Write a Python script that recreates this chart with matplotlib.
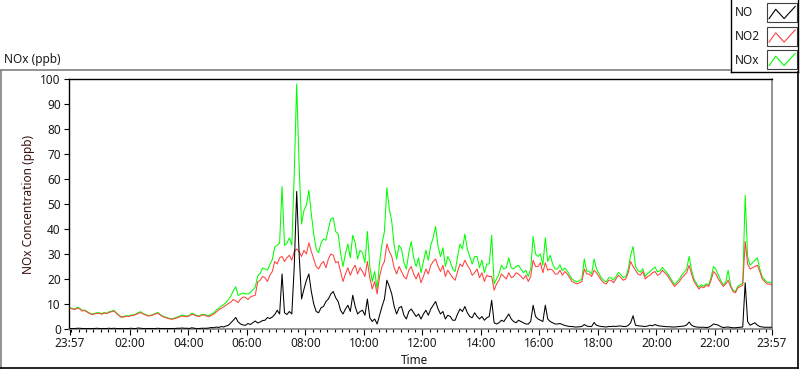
#!/usr/bin/env python3

import matplotlib
matplotlib.use('Agg')
import matplotlib.pyplot as plt
import matplotlib.ticker as mtick
from matplotlib.lines import Line2D
from matplotlib.patches import Rectangle
import numpy as np

# NOx time series, one reading every 5 minutes starting at 23:57
# (one row = one hour)
STEP_MIN = 5

no = [
    0.2, 0.2, 0.2, 0.3, 0.3, 0.2, 0.2, 0.2, 0.2, 0.2, 0.2, 0.3,
    0.2, 0.2, 0.2, 0.2, 0.3, 0.2, 0.3, 0.2, 0.2, 0.2, 0.2, 0.2,
    0.2, 0.3, 0.2, 0.2, 0.4, 0.3, 0.2, 0.2, 0.2, 0.2, 0.2, 0.2,
    0.3, 0.2, 0.2, 0.2, 0.2, 0.2, 0.2, 0.2, 0.3, 0.3, 0.4, 0.3,
    0.3, 0.2, 0.5, 0.3, 0.2, 0.2, 0.3, 0.3, 0.3, 0.4, 0.6, 0.5,
    0.8, 0.6, 1.0, 0.8, 1.2, 1.5, 2.5, 3.5, 4.6, 2.8, 2.0, 1.6,
    1.5, 2.2, 1.8, 2.5, 3.2, 2.4, 2.8, 3.4, 3.5, 4.6, 4.2, 4.8,
    5.8, 7.5, 6.0, 22.0, 6.5, 5.8, 7.0, 6.0, 25.0, 55.0, 30.0, 12.0,
    16.0, 19.5, 22.0, 15.0, 10.0, 7.0, 6.5, 8.5, 9.0, 11.0, 12.0, 14.0,
    15.0, 12.5, 11.0, 7.5, 6.0, 8.0, 9.5, 7.0, 13.5, 9.0, 6.0, 7.0,
    7.5, 5.5, 12.0, 4.5, 3.0, 4.0, 2.0, 5.5, 9.0, 12.0, 19.5, 17.0,
    14.0, 9.0, 6.0, 8.5, 9.0, 5.5, 4.0, 7.0, 8.0, 6.5, 5.0, 6.0,
    4.0, 6.0, 7.5, 5.5, 8.0, 9.5, 11.0, 8.0, 6.0, 7.0, 4.0, 5.5,
    5.0, 3.5, 3.5, 6.0, 8.0, 7.0, 9.0, 6.5, 5.0, 4.5, 6.5, 5.0,
    4.0, 5.0, 3.5, 4.5, 5.0, 11.5, 2.5, 2.0, 2.5, 3.5, 3.0, 4.5,
    6.0, 4.0, 3.0, 2.5, 3.5, 3.0, 2.5, 2.0, 2.0, 3.0, 9.5, 5.0,
    4.0, 3.5, 3.0, 9.5, 4.0, 3.0, 2.5, 2.0, 2.0, 2.2, 1.8, 1.4,
    1.2, 1.0, 1.0, 0.8, 0.8, 0.9, 1.0, 1.8, 1.2, 1.0, 1.0, 2.6,
    1.5, 1.2, 1.0, 0.9, 0.8, 1.0, 1.0, 1.1, 1.0, 1.2, 1.2, 1.0,
    1.0, 1.4, 2.5, 5.3, 1.5, 1.3, 1.2, 1.1, 1.0, 1.2, 1.5, 1.3,
    1.8, 1.4, 1.2, 1.1, 1.0, 0.9, 0.9, 0.8, 0.8, 0.9, 1.0, 1.1,
    1.2, 1.6, 2.8, 1.5, 1.0, 0.8, 0.7, 0.7, 0.7, 0.6, 0.7, 1.2,
    2.0, 1.8, 1.5, 0.9, 0.6, 0.7, 0.8, 0.6, 0.5, 0.5, 0.6, 0.7,
    0.8, 18.5, 3.0, 1.5, 2.0, 2.5, 1.5, 1.0, 0.8, 0.7, 0.7, 0.7,
    0.7,
]

no2 = [
    8.3, 8.0, 7.8, 8.4, 8.0, 7.2, 7.4, 6.8, 6.2, 5.8, 6.0, 6.2,
    6.3, 5.9, 6.4, 6.1, 6.6, 6.9, 7.2, 6.3, 5.4, 4.7, 4.8, 5.1,
    5.0, 5.3, 5.4, 5.8, 6.2, 6.6, 6.0, 5.6, 5.2, 5.3, 5.6, 6.0,
    6.3, 5.6, 5.0, 4.6, 4.3, 4.0, 3.9, 4.2, 4.5, 4.9, 5.2, 5.0,
    4.9, 5.3, 5.9, 5.6, 5.2, 5.0, 5.5, 5.6, 5.2, 5.0, 5.4, 6.0,
    6.8, 7.6, 8.2, 8.8, 9.5, 10.2, 10.8, 11.8, 11.3, 10.6, 12.0, 12.8,
    12.6, 11.8, 12.8, 13.2, 13.5, 18.8, 19.5, 21.0, 20.5, 19.0, 21.5, 23.0,
    27.0, 26.0, 28.5, 29.0, 27.0, 28.5, 29.5, 27.5, 31.0, 32.0, 31.0, 29.0,
    31.5, 30.0, 34.5, 31.0, 28.0, 25.0, 24.0, 26.0, 27.0, 24.5, 28.0, 30.0,
    29.5, 26.5, 27.0, 23.0, 19.0, 22.0, 24.5, 21.5, 24.0, 25.5, 22.0, 24.5,
    23.0, 21.0, 27.0, 20.5, 16.0, 19.0, 14.0, 21.0, 25.0, 27.0, 34.0, 31.0,
    29.0, 24.5, 22.0, 25.0, 23.0, 21.0, 20.0, 23.5, 25.0, 22.0, 20.0, 22.5,
    18.5, 21.0, 24.0, 22.0, 25.5, 27.0, 28.0, 25.0, 23.0, 25.5, 21.0, 23.5,
    22.0, 20.5, 19.5, 23.0, 26.0, 25.0, 27.5, 25.5, 24.0, 21.5, 22.5, 24.0,
    20.5, 22.5, 19.0, 21.5, 21.0, 21.0, 15.5, 18.0, 19.5, 22.0, 21.0, 20.0,
    22.5, 20.5, 21.0, 22.5, 22.0, 21.0, 20.0, 21.5, 19.0, 21.0, 27.5, 25.0,
    25.0, 26.5, 22.5, 26.5, 23.5, 24.0, 23.5, 22.0, 22.0, 23.5, 21.5, 23.0,
    22.0, 20.5, 19.0, 18.5, 18.0, 18.5, 19.0, 24.0, 22.0, 22.0, 21.0, 23.5,
    22.5, 21.0, 19.5, 18.5, 18.0, 19.5, 19.5, 18.5, 20.0, 21.5, 20.5, 19.5,
    20.0, 22.5, 27.0, 25.0, 23.5, 22.0, 21.5, 23.0, 20.0, 21.0, 21.5, 22.5,
    23.0, 21.5, 22.0, 23.5, 22.5, 21.5, 20.0, 18.5, 17.0, 18.0, 19.0, 20.5,
    21.5, 22.5, 25.5, 22.0, 19.0, 17.5, 16.0, 17.0, 16.5, 17.5, 17.0, 19.5,
    23.0, 22.0, 20.0, 18.5, 17.0, 18.0, 19.5, 17.0, 15.0, 14.5, 16.5, 17.0,
    17.5, 35.0, 26.0, 24.0, 24.5, 25.0, 25.5, 23.0, 20.0, 19.0, 18.0, 18.0,
    17.5,
]

nox = [
    8.5, 8.2, 8.0, 8.7, 8.3, 7.4, 7.6, 7.0, 6.4, 6.0, 6.2, 6.5,
    6.5, 6.1, 6.6, 6.3, 6.9, 7.1, 7.5, 6.5, 5.6, 4.9, 5.0, 5.3,
    5.2, 5.6, 5.6, 6.0, 6.6, 6.9, 6.2, 5.8, 5.4, 5.5, 5.8, 6.2,
    6.6, 5.8, 5.2, 4.8, 4.5, 4.2, 4.1, 4.4, 4.8, 5.2, 5.6, 5.3,
    5.2, 5.5, 6.4, 5.9, 5.4, 5.2, 5.8, 5.9, 5.5, 5.4, 6.0, 6.5,
    7.6, 8.2, 9.2, 9.6, 10.7, 11.7, 13.3, 15.3, 16.9, 13.4, 14.0, 14.4,
    14.1, 14.0, 14.6, 15.7, 16.7, 21.2, 22.3, 24.4, 24.0, 23.6, 25.7, 27.8,
    32.8, 33.5, 34.5, 57.0, 33.5, 34.3, 36.5, 33.5, 62.0, 98.0, 65.0, 42.0,
    47.5, 49.5, 55.5, 46.0, 38.0, 32.0, 30.5, 34.5, 36.0, 35.5, 40.0, 44.0,
    44.5, 39.0, 38.0, 30.5, 25.0, 30.0, 34.0, 28.5, 37.5, 34.5, 28.0, 31.5,
    30.5, 26.5, 39.0, 25.0, 19.0, 23.0, 16.0, 26.5, 34.0, 39.0, 56.5, 48.0,
    43.0, 33.5, 28.0, 33.5, 32.0, 26.5, 24.0, 30.5, 35.0, 28.5, 25.0, 28.5,
    22.5, 27.0, 31.5, 27.5, 33.5, 36.5, 41.0, 33.0, 29.0, 32.5, 25.0, 29.0,
    27.0, 24.0, 23.0, 29.0, 34.0, 32.0, 38.0, 32.0, 29.0, 26.0, 29.0, 29.0,
    24.5, 27.5, 22.5, 26.0, 26.0, 37.5, 18.0, 20.0, 22.0, 25.5, 24.0, 24.5,
    28.5, 24.5, 24.0, 25.0, 25.5, 24.0, 22.5, 23.5, 21.0, 24.0, 37.0, 30.0,
    29.0, 30.0, 25.5, 36.5, 27.0, 29.5, 26.0, 24.0, 24.0, 25.7, 23.3, 24.4,
    23.2, 21.5, 20.0, 19.3, 18.8, 19.4, 20.0, 28.0, 23.2, 23.0, 22.0, 28.0,
    24.0, 22.2, 20.5, 19.4, 18.8, 20.5, 20.5, 19.6, 21.0, 22.7, 21.7, 20.5,
    21.0, 23.9, 29.5, 33.0, 25.0, 23.3, 22.7, 24.1, 21.0, 22.2, 23.0, 24.0,
    24.8, 22.9, 23.2, 24.6, 23.5, 22.4, 20.9, 19.3, 17.8, 18.9, 20.0, 21.6,
    22.7, 24.1, 29.0, 23.5, 20.0, 18.3, 16.7, 17.7, 17.2, 18.1, 17.7, 20.7,
    25.0, 23.8, 21.5, 19.4, 17.6, 18.7, 23.5, 17.6, 15.5, 15.0, 17.1, 17.7,
    18.3, 53.5, 29.0, 25.5, 26.5, 27.5, 28.5, 24.0, 20.8, 19.7, 18.7, 18.7,
    18.2,
]

tick_labels = ['23:57', '02:00', '04:00', '06:00', '08:00', '10:00', '12:00',
               '14:00', '16:00', '18:00', '20:00', '22:00', '23:57']

series_names = ['NO', 'NO2', 'NOx']
series_colors = ['#000000', '#ff4040', '#00ff00']

FONT = 'Noto Sans'
TXT = '#1a1a1a'
GRAY = '#808080'

plt.rcParams['font.family'] = [FONT, 'DejaVu Sans']
plt.rcParams['font.size'] = 8

W, H = 800, 369
fig = plt.figure(figsize=(W / 100, H / 100), dpi=100)

def fx(px): return px / W
def fy(py): return 1 - py / H

# plot area in pixels: left 68.5, right 772, top 79, bottom 329
ax = fig.add_axes([fx(68.5), fy(329), fx(772 - 68.5), (329 - 79) / H])

hours = np.arange(len(no)) * STEP_MIN / 60.0
ax.plot(hours, nox, color=series_colors[2], lw=0.75, zorder=2)
ax.plot(hours, no2, color=series_colors[1], lw=0.75, zorder=3)
ax.plot(hours, no, color=series_colors[0], lw=0.75, zorder=4)

ax.set_xlim(-1.5 / 29.25, 24)
ax.set_ylim(0, 100)

major = [0] + [2.05 + 2 * k for k in range(11)] + [24]
ax.set_xticks(major)
ax.set_xticklabels(tick_labels)
ax.xaxis.set_minor_locator(mtick.FixedLocator([0.05 + 0.25 * k for k in range(96)]))
ax.set_yticks(range(0, 101, 10))

ax.tick_params(axis='x', which='major', length=4, width=0.8, pad=2,
               colors='black', labelcolor=TXT, labelsize=8.5)
ax.tick_params(axis='x', which='minor', length=2, width=0.8, colors='black')
ax.tick_params(axis='y', length=3.5, width=0.8, pad=2,
               colors='black', labelcolor=TXT, labelsize=8.5)

for side in ['top', 'left']:
    ax.spines[side].set_color('black')
    ax.spines[side].set_linewidth(1.0)
for side in ['bottom', 'right']:
    ax.spines[side].set_color(GRAY)
    ax.spines[side].set_linewidth(1.2)

ax.set_ylabel('NOx Concentration (ppb)', color='#3a1010', fontsize=8.5, labelpad=4)
fig.text(fx(401), fy(361), 'Time', ha='left', va='center', color=TXT, fontsize=8.5)
fig.text(fx(4), fy(59), 'NOx (ppb)', ha='left', va='center', color=TXT, fontsize=8.5)

# outer frame of the graph panel
fig.add_artist(Line2D([fx(0.5), fx(730)], [fy(69.5), fy(69.5)], color=GRAY, lw=1.2))
fig.add_artist(Line2D([fx(0.5), fx(0.5)], [fy(69.5), fy(368)], color=GRAY, lw=1.2))
fig.add_artist(Line2D([fx(0), fx(798)], [fy(368), fy(368)], color='black', lw=1.2))
fig.add_artist(Line2D([fx(798), fx(798)], [fy(72), fy(368)], color='black', lw=1.2))

# legend panel
fig.add_artist(Line2D([fx(730.5), fx(730.5)], [fy(0), fy(72)], color='black', lw=1.0))
fig.add_artist(Line2D([fx(730.5), fx(798)], [fy(72), fy(72)], color='black', lw=1.0))
fig.add_artist(Line2D([fx(798), fx(798)], [fy(0), fy(72)], color='black', lw=1.0))

zz_x = [0.07, 0.29, 0.57, 0.94]
zz_y = [0.18, 0.67, 0.18, 0.82]
for k, (name, col) in enumerate(zip(series_names, series_colors)):
    top = 3 + k * 23.5
    fig.text(fx(735), fy(top + 10), name, ha='left', va='center', color=TXT, fontsize=8.5)
    bx, bw, bh = 767, 30, 19
    fig.add_artist(Rectangle((fx(bx), fy(top + bh)), bw / W, bh / H,
                             facecolor='white', edgecolor='#404040', lw=0.8))
    fig.add_artist(Line2D([fx(bx + u * bw) for u in zz_x],
                          [fy(top + bh - v * bh) for v in zz_y],
                          color=col, lw=0.8))

plt.savefig('out.png', dpi=100)
